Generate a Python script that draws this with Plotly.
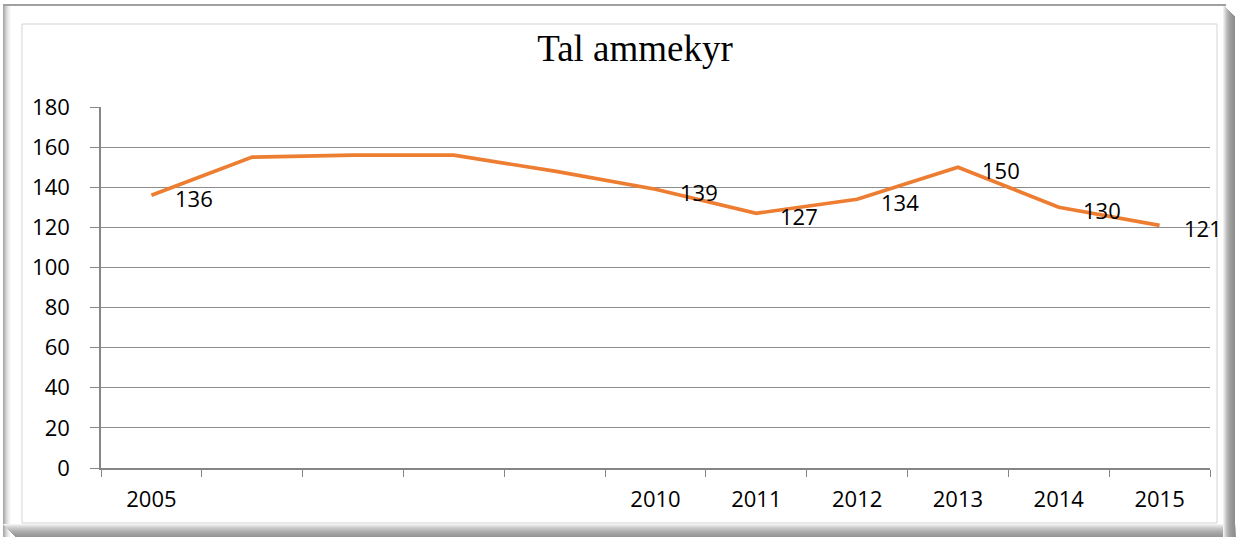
import plotly.graph_objects as go

# ---- data ----
categories = ["2005", "2006", "2007", "2008", "2009", "2010", "2011", "2012", "2013", "2014", "2015"]
tick_labels = ["2005", "", "", "", "", "2010", "2011", "2012", "2013", "2014", "2015"]
values = [136, 155, 156, 156, 148, 139, 127, 134, 150, 130, 121]
point_labels = ["136", "", "", "", "", "139", "127", "134", "150", "130", "121"]
title_text = "Tal ammekyr"

W, H = 1236, 539
L, R, T, B = 101, 1210, 107, 468  # plot area in pixels

def px(x):
    return (x - L) / (R - L)

def py(y):
    return (B - y) / (B - T)

fig = go.Figure()
fig.add_trace(go.Scatter(
    x=categories, y=values, mode="lines",
    line=dict(color="#ED7D31", width=3.7),
    hoverinfo="x+y", showlegend=False,
))

annotations = []
for i, (v, lab) in enumerate(zip(values, point_labels)):
    if lab:
        annotations.append(dict(
            x=i, y=v, xref="x", yref="y", text=lab, showarrow=False,
            xanchor="left", yanchor="middle", xshift=22, yshift=-3,
            font=dict(family="Open Sans", size=22, color="#000000"),
        ))

shapes = []
# left bevel gradient
left_cols = ["#a8a8a8", "#b8b8b8", "#c8c8c8", "#d6d6d6", "#e2e2e2", "#ececec", "#f4f4f4", "#fafafa"]
for i, col in enumerate(left_cols):
    shapes.append(dict(type="rect", xref="paper", yref="paper",
                       x0=px(3 + i), x1=px(4 + i), y0=py(537), y1=py(5),
                       fillcolor=col, line=dict(width=0), layer="below"))
# bottom bevel gradient
bot_cols = ["#f2f2f2", "#e6e6e6", "#dadada", "#cfcfcf", "#c6c6c6", "#bdbdbd", "#b5b5b5",
            "#aeaeae", "#a8a8a8", "#a3a3a3", "#9e9e9e", "#9a9a9a", "#969696"]
for i, col in enumerate(bot_cols):
    shapes.append(dict(type="rect", xref="paper", yref="paper",
                       x0=px(3 + i), x1=px(1236), y0=py(525 + i), y1=py(524 + i),
                       fillcolor=col, line=dict(width=0), layer="below"))
# right bevel gradient
right_cols = ["#f0f0f0", "#e0e0e0", "#d0d0d0", "#c2c2c2", "#b6b6b6", "#acacac",
              "#a4a4a4", "#9e9e9e", "#999999", "#959595", "#929292", "#8f8f8f"]
for i, col in enumerate(right_cols):
    shapes.append(dict(type="rect", xref="paper", yref="paper",
                       x0=px(1223 + i), x1=px(1224 + i), y0=py(537), y1=py(5 + i),
                       fillcolor=col, line=dict(width=0), layer="below"))
# top line
shapes.append(dict(type="line", xref="paper", yref="paper",
                   x0=px(3), x1=px(1226), y0=py(5), y1=py(5),
                   line=dict(color="#a0a0a0", width=2), layer="below"))
# inner thin border
shapes.append(dict(type="rect", xref="paper", yref="paper",
                   x0=px(22), x1=px(1217), y0=py(523), y1=py(24),
                   line=dict(color="#d4d4d4", width=1), layer="below"))

fig.update_layout(
    width=W, height=H,
    margin=dict(l=L, r=W - R, t=T, b=H - B, pad=0),
    paper_bgcolor="#ffffff", plot_bgcolor="#ffffff",
    title=dict(text=title_text, x=635 / W, xref="container", y=1 - 48 / H, yref="container",
               xanchor="center", yanchor="middle",
               font=dict(family="Liberation Serif", size=37, color="#000000")),
    font=dict(family="Open Sans", size=22, color="#000000"),
    annotations=annotations,
    shapes=shapes,
    showlegend=False,
)
fig.update_xaxes(
    type="category", categoryorder="array", categoryarray=categories,
    tickmode="array", tickvals=categories, ticktext=tick_labels,
    tickson="boundaries", ticks="outside", ticklen=7, tickcolor="#868686",
    showline=True, linecolor="#868686", linewidth=1.5,
    showgrid=False, ticklabelstandoff=11,
    tickfont=dict(family="Open Sans", size=22, color="#000000"),
    range=[-0.5, 10.5],
)
fig.update_yaxes(
    range=[0, 180], dtick=20, tick0=0,
    ticks="outside", ticklen=9, tickcolor="#868686",
    showline=True, linecolor="#868686", linewidth=1.5,
    showgrid=True, gridcolor="#8c8c8c", gridwidth=1, zeroline=False,
    ticklabelstandoff=16,
    tickfont=dict(family="Open Sans", size=22, color="#000000"),
)

fig.write_html(
    "out.html",
    config={"displayModeBar": False},
    post_script="document.body.style.margin='0';document.body.style.padding='0';document.body.style.overflow='hidden';",
)
